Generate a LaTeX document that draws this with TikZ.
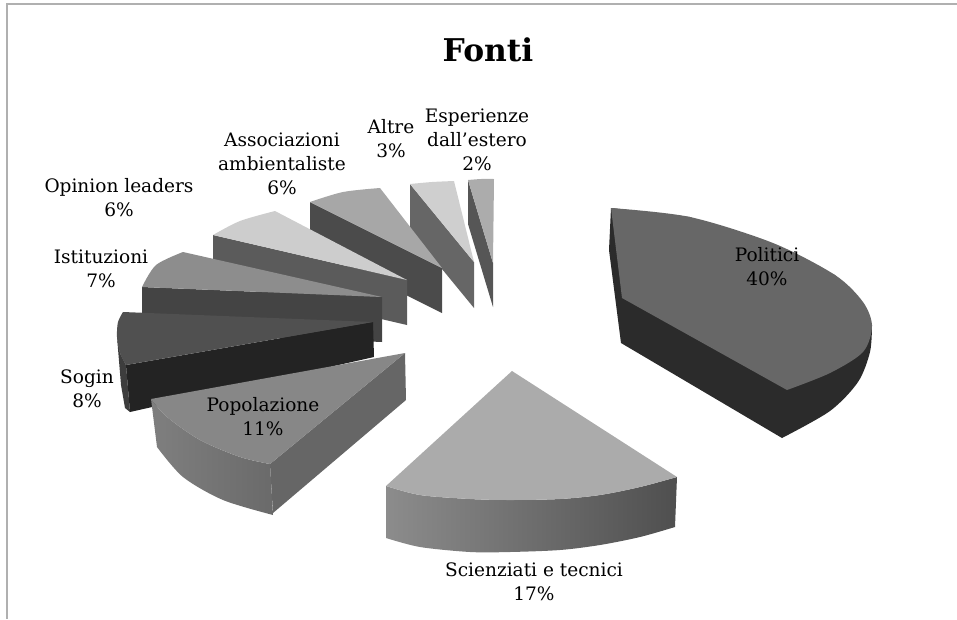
\documentclass[tikz,border=0pt]{standalone}
\usepackage{fontspec}
\setmainfont{DejaVu Serif}
\usetikzlibrary{calc}

\definecolor{frameC}{HTML}{B0B0B0}
\definecolor{politT}{HTML}{676767}\definecolor{politS}{HTML}{2B2B2B}
\definecolor{scienT}{HTML}{ABABAB}\definecolor{scienL}{HTML}{8C8C8C}\definecolor{scienR}{HTML}{4F4F4F}
\definecolor{popolT}{HTML}{878787}\definecolor{popolS}{HTML}{666666}
\definecolor{popolL}{HTML}{7F7F7F}\definecolor{popolR}{HTML}{6A6A6A}
\definecolor{soginT}{HTML}{505050}\definecolor{soginS}{HTML}{232323}\definecolor{soginW}{HTML}{3D3D3D}
\definecolor{istitT}{HTML}{8D8D8D}\definecolor{istitS}{HTML}{444444}
\definecolor{opinT}{HTML}{CDCDCD}\definecolor{opinS}{HTML}{5B5B5B}
\definecolor{assocT}{HTML}{A7A7A7}\definecolor{assocS}{HTML}{4B4B4B}
\definecolor{altreT}{HTML}{CFCFCF}\definecolor{altreS}{HTML}{666666}
\definecolor{esperT}{HTML}{ACACAC}\definecolor{esperS}{HTML}{565656}

\begin{document}
\begin{tikzpicture}[x=0.75pt,y=-0.75pt,
  lbl/.style={font=\fontsize{13.9}{18}\selectfont,align=center},
  ttl/.style={font=\fontsize{23.5}{28}\selectfont\bfseries}]
\useasboundingbox (0,0) rectangle (957,619);
\draw[frameC,line width=1.5pt] (957,3.5) -- (7,3.5) -- (7,619);

% back slices: apex / start / arc mid / end / depth / top / side
\foreach \a/\s/\m/\e/\d/\ct/\cs in {%
    {493,263}/{468,180}/{481,179}/{494,179}/44/esperT/esperS,%
    {474,262}/{410,184}/{432,182}/{454,181}/46/altreT/altreS,%
    {442,268}/{310,202}/{343,192}/{380,188}/45/assocT/assocS,%
    {407,280}/{213,235}/{240,221}/{275,211}/45/opinT/opinS,%
    {382,297}/{142,287}/{156,265}/{183,252}/45/istitT/istitS%
    }{
  \fill[\cs] (\s) -- (\a) -- ($(\a)+(0,\d)$) -- ($(\s)+(0,\d)$) -- cycle;
  \fill[\ct] (\a) -- plot[smooth] coordinates {(\s) (\m) (\e)} -- cycle;
}

% Sogin
\fill[soginW] (117,337) -- (120,353) -- (126,365) -- (130,412) -- (125,408) -- (121,385) -- cycle;
\fill[soginS] (126,365) -- (373,322) -- (374,357) -- (130,412) -- cycle;
\fill[soginT] (373,322) -- plot[smooth] coordinates {(123,312) (118,322) (117,337) (120,353) (126,365)} -- cycle;

% Popolazione
\shade[left color=popolL,right color=popolR] plot[smooth] coordinates {(151,399) (167,417) (200,440) (240,457) (270,464)}
  -- plot[smooth] coordinates {(273,515) (223,500) (183,477) (157,447)} -- cycle;
\fill[popolS] (405,353) -- (406,400) -- (273,513) -- (270,464) -- cycle;
\fill[popolT] (405,353) -- plot[smooth] coordinates {(151,399) (167,417) (200,440) (240,457) (270,464)} -- cycle;

% Politici
\fill[politS] (611,208) -- (609,250) -- (621,343) -- plot[smooth] coordinates {(782,438) (830,411) (858,382) (870,352) (872,325)}
  -- (835,275) -- (690,217) -- cycle;
\fill[politT] (622,298) -- plot[smooth] coordinates {(611,208) (690,217) (773,243) (835,275) (863,302) (872,326) (863,352) (830,373) (787,390)} -- cycle;

% Scienziati e tecnici
\shade[left color=scienL,right color=scienR] plot[smooth] coordinates {(386,486) (420,495) (470,499) (510,500) (560,499) (600,495) (640,487) (677,477)}
  -- plot[smooth] coordinates {(675,527) (640,537) (600,545) (560,550) (510,552) (470,552) (420,547) (386,538)} -- cycle;
\fill[scienT] (512,371) -- plot[smooth] coordinates {(386,486) (420,495) (470,499) (510,500) (560,499) (600,495) (640,487) (677,477)} -- cycle;

\node[ttl] (title) at (488,50) {Fonti};
\node[lbl] (politici) at (767,267) {Politici\\40\%};
\node[lbl] (scienziati) at (534,582) {Scienziati e tecnici\\17\%};
\node[lbl] (popolazione) at (263,417) {Popolazione\\11\%};
\node[lbl] (sogin) at (87,389) {Sogin\\8\%};
\node[lbl] (istituzioni) at (101,269) {Istituzioni\\7\%};
\node[lbl] (opinion) at (119,198) {Opinion leaders\\6\%};
\node[lbl] (associazioni) at (282,164) {Associazioni\\ambientaliste\\6\%};
\node[lbl] (altre) at (391,139) {Altre\\3\%};
\node[lbl] (esperienze) at (477,140) {Esperienze\\dall\symbol{39}estero\\2\%};
\end{tikzpicture}
\end{document}
